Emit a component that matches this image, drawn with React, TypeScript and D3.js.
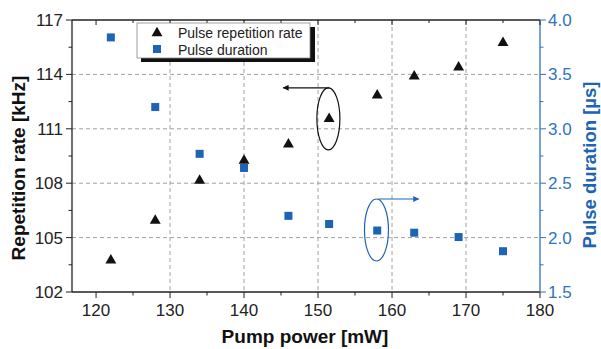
import React from 'react';
import * as d3 from 'd3';

// pump power [mW]
const power = [122, 128, 134, 140, 146, 151.5, 158, 163, 169, 175];
// repetition rate [kHz]
const repRate = [103.8, 106.0, 108.2, 109.3, 110.2, 111.6, 112.9, 113.95, 114.45, 115.8];
// pulse duration [µs]
const duration = [3.84, 3.2, 2.77, 2.64, 2.2, 2.125, 2.065, 2.045, 2.005, 1.875];

const xTicks = [120, 130, 140, 150, 160, 170, 180];
const yLeftTicks = [102, 105, 108, 111, 114, 117];
const yRightTicks = [1.5, 2.0, 2.5, 3.0, 3.5, 4.0];

const BLUE = '#1e64b4';
const AXIS_BLUE = '#2f73c4';
const GRID = '#a0a0a0';

const W = 601, H = 349;
const margin = { top: 20, right: 61, bottom: 57, left: 72 };

const App: React.FC = () => {
  const x = d3.scaleLinear().domain([116.75, 180]).range([margin.left, W - margin.right]);
  const yL = d3.scaleLinear().domain([102, 117]).range([H - margin.bottom, margin.top]);
  const yR = d3.scaleLinear().domain([1.5, 4.0]).range([H - margin.bottom, margin.top]);

  const x0 = margin.left, x1 = W - margin.right;
  const yb = H - margin.bottom, yt = margin.top;

  const xMinor = d3.range(125, 180, 10);
  const yLMinor = d3.range(103.5, 117, 3);
  const yRMinor = d3.range(1.75, 4, 0.5);

  const tri = d3.symbol(d3.symbolTriangle, 52)() as string;
  const font = 'Arial, "Liberation Sans", sans-serif';

  // annotations
  const e1 = { cx: x(151.4), cy: yL(111.55), rx: 11.5, ry: 31 };
  const e2 = { cx: x(157.9), cy: yR(2.07), rx: 12, ry: 31 };

  return (
    <svg width={W} height={H} style={{ position: 'absolute', left: 0, top: 0, fontFamily: font }}>
      <defs>
        <marker id="arrK" viewBox="0 0 10 10" refX="9" refY="5" markerWidth="7" markerHeight="5" orient="auto">
          <path d="M0,0 L10,5 L0,10 z" fill="#111" />
        </marker>
        <marker id="arrB" viewBox="0 0 10 10" refX="9" refY="5" markerWidth="7" markerHeight="5" orient="auto">
          <path d="M0,0 L10,5 L0,10 z" fill={BLUE} />
        </marker>
      </defs>
      <rect width={W} height={H} fill="#fff" />

      {/* grid */}
      {xTicks.slice(1, -1).map(t => (
        <line key={'gx' + t} x1={x(t)} x2={x(t)} y1={yt} y2={yb} stroke={GRID} strokeDasharray="4,3" />
      ))}
      {yLeftTicks.slice(1, -1).map(t => (
        <line key={'gy' + t} x1={x0} x2={x1} y1={yL(t)} y2={yL(t)} stroke={GRID} strokeDasharray="4,3" />
      ))}

      {/* frame */}
      <line x1={x0} x2={x1} y1={yt} y2={yt} stroke="#222" strokeWidth={1.3} />
      <line x1={x0} x2={x1} y1={yb} y2={yb} stroke="#222" strokeWidth={1.3} />
      <line x1={x0} x2={x0} y1={yt} y2={yb} stroke="#222" strokeWidth={1.3} />
      <line x1={x1} x2={x1} y1={yt} y2={yb} stroke={AXIS_BLUE} strokeWidth={1.3} />

      {/* bottom / top ticks */}
      {xTicks.map(t => (
        <g key={'xt' + t}>
          <line x1={x(t)} x2={x(t)} y1={yb} y2={yb + 6} stroke="#222" />
          <line x1={x(t)} x2={x(t)} y1={yt} y2={yt + 5} stroke="#222" />
          <text x={x(t)} y={yb + 24} textAnchor="middle" fontSize={17} fill="#222">{t}</text>
        </g>
      ))}
      {xMinor.map(t => (
        <g key={'xm' + t}>
          <line x1={x(t)} x2={x(t)} y1={yb} y2={yb + 3.5} stroke="#222" />
          <line x1={x(t)} x2={x(t)} y1={yt} y2={yt + 3} stroke="#222" />
        </g>
      ))}

      {/* left ticks */}
      {yLeftTicks.map(t => (
        <g key={'yl' + t}>
          <line x1={x0 - 6} x2={x0} y1={yL(t)} y2={yL(t)} stroke="#222" />
          <text x={x0 - 9} y={yL(t) + 6} textAnchor="end" fontSize={17} fill="#222">{t}</text>
        </g>
      ))}
      {yLMinor.map(t => (
        <line key={'ylm' + t} x1={x0 - 3.5} x2={x0} y1={yL(t)} y2={yL(t)} stroke="#222" />
      ))}

      {/* right ticks */}
      {yRightTicks.map(t => (
        <g key={'yr' + t}>
          <line x1={x1} x2={x1 + 6} y1={yR(t)} y2={yR(t)} stroke={AXIS_BLUE} />
          <text x={x1 + 8} y={yR(t) + 6} textAnchor="start" fontSize={17} fill={AXIS_BLUE}>{t.toFixed(1)}</text>
        </g>
      ))}
      {yRMinor.map(t => (
        <line key={'yrm' + t} x1={x1} x2={x1 + 3.5} y1={yR(t)} y2={yR(t)} stroke={AXIS_BLUE} />
      ))}

      {/* axis titles */}
      <text x={305} y={343} textAnchor="middle" fontSize={19} fontWeight="bold" fill="#111">Pump power [mW]</text>
      <text transform={`translate(25,${(yt + yb) / 2 + 12}) rotate(-90)`} textAnchor="middle" fontSize={19} fontWeight="bold" fill="#111">Repetition rate [kHz]</text>
      <text transform={`translate(596,${(yt + yb) / 2 + 9}) rotate(-90)`} textAnchor="middle" fontSize={18.5} fontWeight="bold" fill={BLUE}>Pulse duration [µs]</text>

      {/* data */}
      {power.map((p, i) => (
        <rect key={'sq' + i} x={x(p) - 4} y={yR(duration[i]) - 4} width={8} height={8} fill={BLUE} />
      ))}
      {power.map((p, i) => (
        <path key={'tr' + i} d={tri} transform={`translate(${x(p)},${yL(repRate[i]) + 1})`} fill="#111" />
      ))}

      {/* annotations */}
      <ellipse cx={e1.cx} cy={e1.cy} rx={e1.rx} ry={e1.ry} fill="none" stroke="#111" strokeWidth={1.2} />
      <line x1={e1.cx + 1} x2={x(145.3)} y1={e1.cy - e1.ry} y2={e1.cy - e1.ry} stroke="#111" strokeWidth={1.2} markerEnd="url(#arrK)" />
      <ellipse cx={e2.cx} cy={e2.cy} rx={e2.rx} ry={e2.ry} fill="none" stroke={BLUE} strokeWidth={1.2} />
      <line x1={e2.cx + 2} x2={x(163.6)} y1={e2.cy - e2.ry} y2={e2.cy - e2.ry} stroke={BLUE} strokeWidth={1.2} markerEnd="url(#arrB)" />

      {/* legend */}
      <rect x={141} y={27} width={174} height={35} fill="#111" />
      <rect x={137} y={23} width={173} height={35} fill="#fff" stroke="#888" strokeWidth={0.8} />
      <path d={tri} transform="translate(157,33)" fill="#111" />
      <rect x={153} y={45} width={8} height={8} fill={BLUE} />
      <text x={178} y={38} fontSize={14} fill="#222">Pulse repetition rate</text>
      <text x={178} y={55} fontSize={14} fill="#222">Pulse duration</text>
    </svg>
  );
};

export default App;
